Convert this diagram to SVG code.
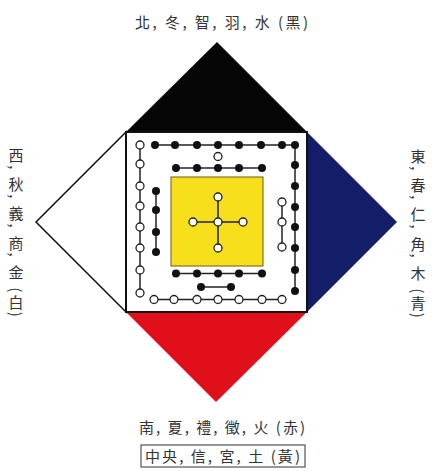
<svg xmlns="http://www.w3.org/2000/svg" width="432" height="471" viewBox="0 0 432 471">
<style>
.lbl{font-family:"Noto Sans CJK TC","Noto Sans CJK JP","Noto Sans CJK SC",sans-serif;font-size:15px;fill:#333}
.vl{writing-mode:vertical-rl;letter-spacing:2.2px}
.b{fill:#111}
.w{fill:#fff;stroke:#222;stroke-width:1.3}
.ln{stroke:#222;stroke-width:1.5;fill:none}
</style>
<rect width="432" height="471" fill="#fff"/>
<g id="north-triangle"><polygon points="217,42 126,132 307,132" fill="#050505"/></g>
<g id="east-triangle"><polygon points="307,132 397,222 307,312" fill="#141e68"/></g>
<g id="south-triangle"><polygon points="126,312 307,312 216,402" fill="#e0101a"/></g>
<g id="west-triangle"><polygon points="126,132 36,222 126,312" fill="#fff" stroke="#111" stroke-width="1.5"/></g>
<g id="center-square">
<rect x="126" y="132" width="181" height="180" fill="#fff" stroke="#111" stroke-width="2"/>
<rect x="171" y="177" width="92" height="89" fill="#f7df1c" stroke="#6b5a10" stroke-width="1"/>
</g>
<g id="connectors">
<path class="ln" d="M155,145H295V291"/>
<path class="ln" d="M140,145V293"/>
<path class="ln" d="M154,299.5H282"/>
<path class="ln" d="M176,168H262"/>
<path class="ln" d="M176,273.5H262"/>
<path class="ln" d="M201,287H231"/>
<path class="ln" d="M156,191V252"/>
<path class="ln" d="M282,202V247"/>
<path class="ln" d="M218,197V248M193,222H243" stroke-width="1.2"/>
</g>
<g id="outer-top-black">
<circle class="b" cx="155" cy="145" r="4"/><circle class="b" cx="175" cy="145" r="4"/><circle class="b" cx="197" cy="145" r="4"/><circle class="b" cx="218" cy="145" r="4"/><circle class="b" cx="239" cy="145" r="4"/><circle class="b" cx="261" cy="145" r="4"/><circle class="b" cx="282" cy="145" r="4"/>
</g>
<g id="outer-right-black">
<circle class="b" cx="295" cy="145" r="4"/><circle class="b" cx="295" cy="165" r="4"/><circle class="b" cx="295" cy="186" r="4"/><circle class="b" cx="295" cy="207" r="4"/><circle class="b" cx="295" cy="227" r="4"/><circle class="b" cx="295" cy="248" r="4"/><circle class="b" cx="295" cy="270" r="4"/><circle class="b" cx="295" cy="291" r="4"/>
</g>
<g id="outer-left-white">
<circle class="w" cx="140" cy="145" r="4"/><circle class="w" cx="140" cy="164" r="4"/><circle class="w" cx="140" cy="186" r="4"/><circle class="w" cx="140" cy="206" r="4"/><circle class="w" cx="140" cy="227" r="4"/><circle class="w" cx="140" cy="248" r="4"/><circle class="w" cx="140" cy="270" r="4"/><circle class="w" cx="140" cy="293" r="4"/>
</g>
<g id="outer-bottom-white">
<circle class="w" cx="154" cy="299.5" r="4"/><circle class="w" cx="174" cy="299.5" r="4"/><circle class="w" cx="197" cy="299.5" r="4"/><circle class="w" cx="218" cy="299.5" r="4"/><circle class="w" cx="239" cy="299.5" r="4"/><circle class="w" cx="262" cy="299.5" r="4"/><circle class="w" cx="282" cy="299.5" r="4"/>
</g>
<g id="inner-top">
<circle class="w" cx="218" cy="156.5" r="4"/>
<circle class="b" cx="176" cy="168" r="4"/><circle class="b" cx="197" cy="168" r="4"/><circle class="b" cx="218" cy="168" r="4"/><circle class="b" cx="239" cy="168" r="4"/><circle class="b" cx="262" cy="168" r="4"/>
</g>
<g id="inner-bottom">
<circle class="b" cx="176" cy="273.5" r="4"/><circle class="b" cx="197" cy="273.5" r="4"/><circle class="b" cx="218" cy="273.5" r="4"/><circle class="b" cx="239" cy="273.5" r="4"/><circle class="b" cx="262" cy="273.5" r="4"/>
<circle class="b" cx="201" cy="287" r="4"/><circle class="b" cx="231" cy="287" r="4"/>
</g>
<g id="inner-left">
<circle class="b" cx="156" cy="191" r="4"/><circle class="b" cx="156" cy="210" r="4"/><circle class="b" cx="156" cy="232" r="4"/><circle class="b" cx="156" cy="252" r="4"/>
</g>
<g id="inner-right">
<circle class="w" cx="282" cy="202" r="4"/><circle class="w" cx="282" cy="222" r="4"/><circle class="w" cx="282" cy="247" r="4"/>
</g>
<g id="center-cross">
<circle class="w" cx="218" cy="197" r="4"/><circle class="w" cx="218" cy="248" r="4"/><circle class="w" cx="193" cy="222" r="4"/><circle class="w" cx="243" cy="222" r="4"/><circle class="w" cx="218" cy="222" r="4"/>
</g>
<g id="label-north"><text class="lbl" x="135" y="28" textLength="173" lengthAdjust="spacing">北, 冬, 智, 羽, 水 (黑)</text></g>
<g id="label-south"><text class="lbl" x="139" y="433" textLength="166" lengthAdjust="spacing">南, 夏, 禮, 徵, 火 (赤)</text></g>
<g id="label-center">
<rect x="141" y="445" width="164" height="22" fill="#fff" stroke="#333" stroke-width="1"/>
<text class="lbl" x="145" y="462" textLength="155" lengthAdjust="spacing">中央, 信, 宮, 土 (黃)</text>
</g>
<g id="label-west"><text class="lbl vl" x="16" y="148">西, 秋, 義, 商, 金 (白)</text></g>
<g id="label-east"><text class="lbl vl" x="418" y="149">東, 春, 仁, 角, 木 (青)</text></g>
</svg>
